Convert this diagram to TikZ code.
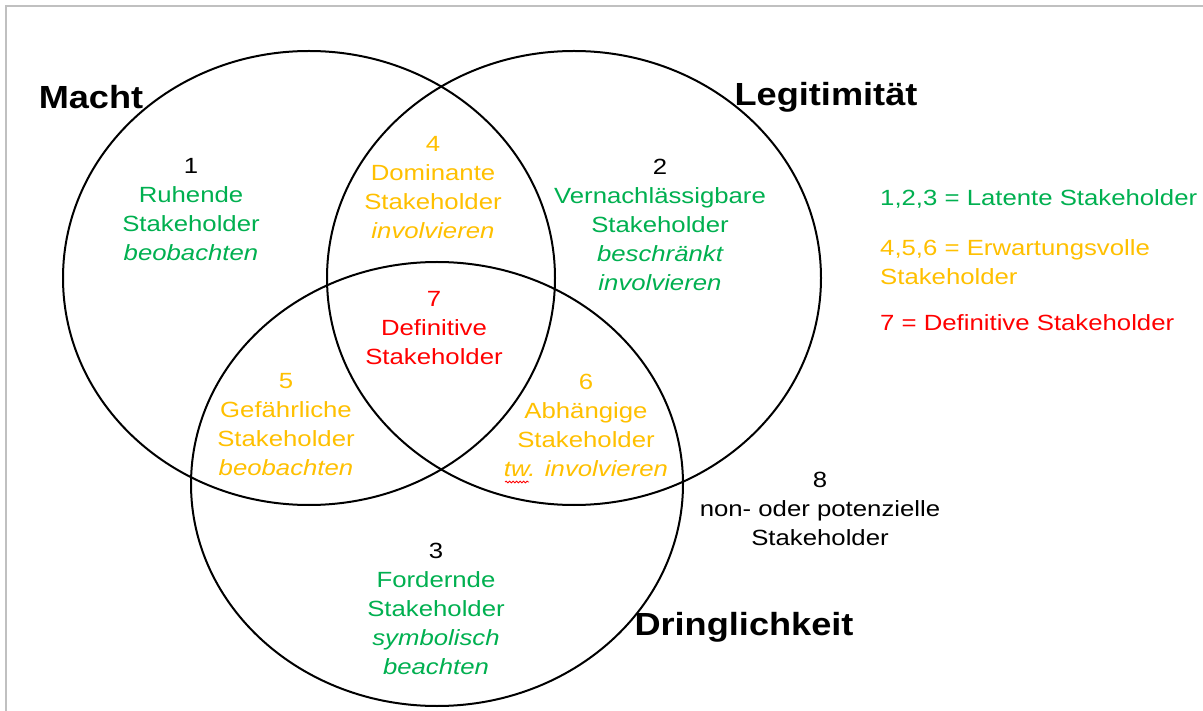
\documentclass[tikz,border=0pt]{standalone}
\usepackage{fontspec}
\setmainfont{Liberation Sans}[FakeStretch=1.17]
\newfontfamily\titlefont{Liberation Sans}[FakeStretch=1.13]
\usetikzlibrary{decorations.pathmorphing}
\definecolor{cgreen}{HTML}{00B050}
\definecolor{corange}{HTML}{FFC000}
\definecolor{cred}{HTML}{FF0000}
\definecolor{cborder}{HTML}{C0C0C0}
\begin{document}
\begin{tikzpicture}[x=1pt,y=-1pt,
  lbl/.style={font=\fontsize{22}{29}\selectfont, align=center, inner sep=0pt},
  ttl/.style={font=\titlefont\bfseries\fontsize{32}{36}\selectfont, inner sep=0pt},
  venn/.style={draw=black, line width=2pt}]
\useasboundingbox (0,0) rectangle (1203,711);
\fill[white] (0,0) rectangle (1203,711);
\draw[cborder, line width=2pt] (6,711) -- (6,6) -- (1203,6);
% circles
\draw[venn] (309,278) ellipse [x radius=246, y radius=227];
\draw[venn] (574,278) ellipse [x radius=247, y radius=227];
\draw[venn] (437,484) ellipse [x radius=246, y radius=222];
% titles
\node[ttl] (macht) at (91,97) {Macht};
\node[ttl] (legit) at (826,97) {Legitimität};
\node[ttl] (dring) at (744,627) {Dringlichkeit};
% regions
\node[lbl] (r1) at (191,210) {\textcolor{black}{1}\\\textcolor{cgreen}{Ruhende}\\\textcolor{cgreen}{Stakeholder}\\\textcolor{cgreen}{\itshape beobachten}};
\node[lbl] (r4) at (433,188) {\textcolor{corange}{4}\\\textcolor{corange}{Dominante}\\\textcolor{corange}{Stakeholder}\\\textcolor{corange}{\itshape involvieren}};
\node[lbl] (r2) at (660,225) {\textcolor{black}{2}\\\textcolor{cgreen}{Vernachlässigbare}\\\textcolor{cgreen}{Stakeholder}\\\textcolor{cgreen}{\itshape beschränkt}\\\textcolor{cgreen}{\itshape involvieren}};
\node[lbl] (r7) at (434,328) {\textcolor{cred}{7}\\\textcolor{cred}{Definitive}\\\textcolor{cred}{Stakeholder}};
\node[lbl] (r5) at (286,425) {\textcolor{corange}{5}\\\textcolor{corange}{Gefährliche}\\\textcolor{corange}{Stakeholder}\\\textcolor{corange}{\itshape beobachten}};
\node[lbl] (r6) at (586,425) {\textcolor{corange}{6}\\\textcolor{corange}{Abhängige}\\\textcolor{corange}{Stakeholder}\\\textcolor{corange}{\itshape tw. involvieren}};
\node[lbl] (r3) at (436,609) {\textcolor{black}{3}\\\textcolor{cgreen}{Fordernde}\\\textcolor{cgreen}{Stakeholder}\\\textcolor{cgreen}{\itshape symbolisch}\\\textcolor{cgreen}{\itshape beachten}};
\node[lbl] (r8) at (820,509) {8\\non- oder potenzielle\\Stakeholder};
% spell-check wave under "tw"
\draw[cred, line width=0.8pt, decorate, decoration={snake, amplitude=0.9pt, segment length=3.5pt}] (505,482) -- (529,482);
% legend
\node[lbl, anchor=west, text=cgreen] (leg1) at (880,199) {1,2,3 = Latente Stakeholder};
\node[lbl, anchor=west, align=left, text=corange] (leg2) at (880,262) {4,5,6 = Erwartungsvolle\\Stakeholder};
\node[lbl, anchor=west, text=cred] (leg3) at (880,323) {7 = Definitive Stakeholder};
\end{tikzpicture}
\end{document}
